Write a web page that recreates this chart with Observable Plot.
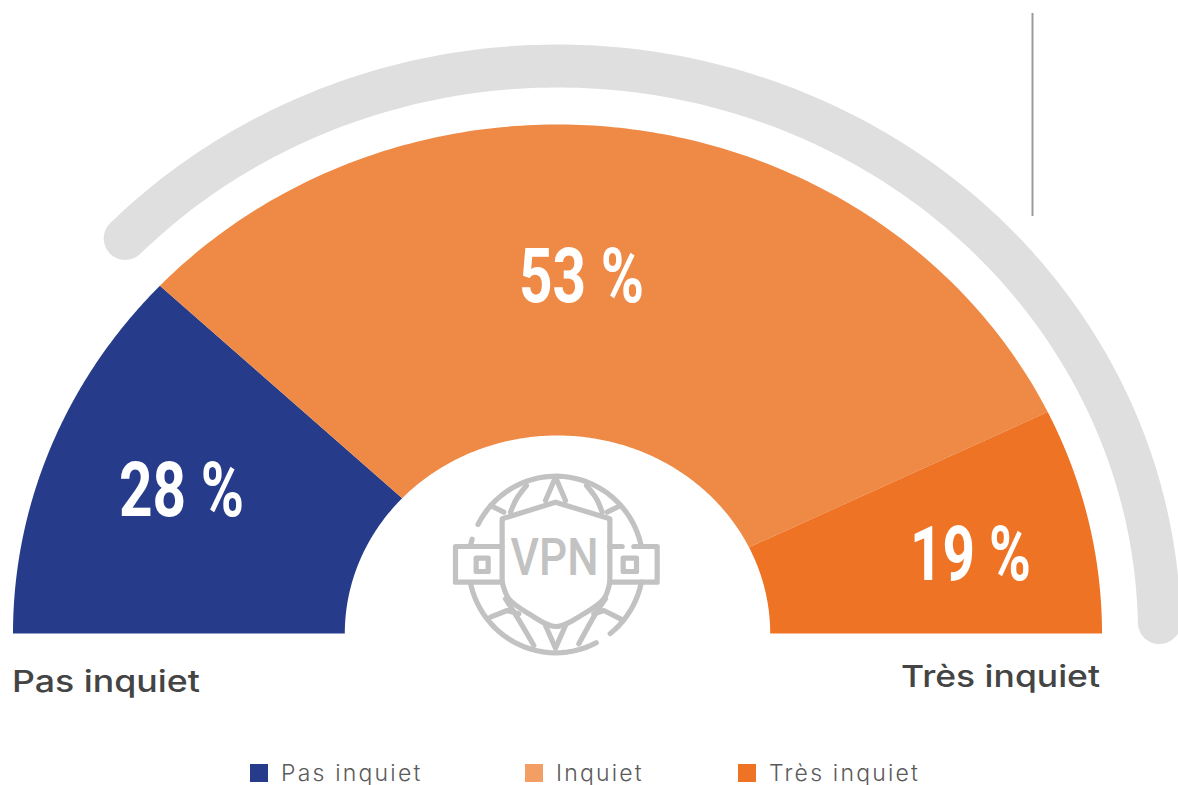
<!DOCTYPE html>
<html lang="fr">
<head>
<meta charset="utf-8">
<script src="https://cdn.jsdelivr.net/npm/d3@7"></script>
<script src="https://cdn.jsdelivr.net/npm/@observablehq/plot@0.6"></script>
<style>
html,body{margin:0;padding:0;background:#fff;overflow:hidden;width:1178px;height:785px}
#chart svg{display:block}
#legend{position:relative;height:30px;width:1178px;font-family:Inter,sans-serif;font-weight:300;font-size:23px;color:#5a5a5a}
#legend .s{position:absolute;top:9px;width:18px;height:18px}
#legend .t{position:absolute;top:6px;line-height:24px;white-space:nowrap;letter-spacing:2.2px}
</style>
</head>
<body>
<div id="chart"></div>
<div id="legend"></div>
<script>
const categories = ["Pas inquiet", "Inquiet", "Très inquiet"];
const values = [28, 53, 19];
const valueLabels = ["28 %", "53 %", "19 %"];
const sectorColors = ["#263C8A", "#EE8A45", "#EE7324"];
const legendColors = ["#263C8A", "#F29E64", "#EE7324"];
// Sector edges as drawn in the picture (degrees, counter-clockwise from the right)
const sectorEdges = [180, 136.9, 25.8, 0];

const W = 1178, H = 755, cx = 557, cy = 633;
const rOuter = [544.5, 509], rInner = [212.7, 198], rTrack = [602, 567.5];
const arcPts = (r, a0, a1) => d3.range(0, 1.0001, 1 / 160).map(t => {
  const a = (a0 + (a1 - a0) * t) * Math.PI / 180;
  return [r[0] * Math.cos(a), r[1] * Math.sin(a)];
});

const sectors = categories.flatMap((c, i) =>
  [...arcPts(rOuter, sectorEdges[i], sectorEdges[i + 1]), ...arcPts(rInner, sectorEdges[i + 1], sectorEdges[i])]
    .map(([x, y]) => ({x, y, c})));
const track = arcPts(rTrack, 1.1, 135.9).map(([x, y]) => ({x, y}));

// Icon, in its own 3x drawing units
const ix = x => 440 + x / 3 - cx;
const iy = y => cy - (465 + y / 3);
const circle = (a0, a1) => d3.range(a0, a1 + 0.01, 4).map(a => [346 + 262 * Math.cos(a * Math.PI / 180), 297 + 265 * Math.sin(a * Math.PI / 180)]);
const iconStraight = [
  circle(207, 347), circle(11.5, 53.5), circle(62.4, 168.5), circle(192.6, 198.4),
  [[185, 243], [45, 243], [45, 350], [185, 350]],
  [[508, 350], [650, 350], [650, 243], [580, 243]],
  [[508, 243], [545, 243]],
  [[107, 278], [143, 278], [143, 318], [107, 318], [107, 278]],
  [[548, 278], [588, 278], [588, 318], [548, 318], [548, 278]],
  [[185, 350], [185, 160], [345, 110], [508, 160], [508, 350]],
  [[150, 120], [190, 140]], [[540, 120], [500, 140]],
  [[150, 455], [200, 435], [235, 445]], [[540, 460], [490, 435], [460, 445]],
  [[345, 35], [315, 105]], [[345, 35], [375, 105]],
  [[315, 480], [345, 548], [375, 480]]
];
const iconCurved = [
  [[185, 350], [205, 400], [265, 445], [345, 483], [430, 445], [490, 400], [508, 350]],
  [[258, 60], [228, 100], [210, 140]], [[438, 60], [468, 100], [485, 140]],
  [[195, 400], [230, 455], [280, 540]], [[495, 400], [465, 445], [415, 535]]
];
const toRows = lines => lines.flatMap((l, k) => l.map(([x, y]) => ({x: ix(x), y: iy(y), k})));

const texts = [
  {x: 181 - cx, y: cy - 491.5, t: valueLabels[0], w: 125},
  {x: 581 - cx, y: cy - 277.5, t: valueLabels[1], w: 125},
  {x: 970 - cx, y: cy - 555.5, t: valueLabels[2], w: 121}
];
const fit = (getW, adjust) => (index, scales, values, dims, ctx, next) => {
  const g = next(index, scales, values, dims, ctx);
  d3.select(g).selectAll("text").each(function (_, j) {
    this.setAttribute("textLength", getW(index[j]));
    this.setAttribute("lengthAdjust", adjust);
  });
  return g;
};
const sideLabels = [
  {x: 11.5 - cx, y: cy - 691.5, t: categories[0], w: 188},
  {x: 900.5 - cx, y: cy - 686.5, t: categories[2], w: 199}
];

const plot = Plot.plot({
  width: W, height: H, margin: 0,
  x: {domain: [-cx, W - cx], axis: null},
  y: {domain: [cy - H, cy], axis: null},
  color: {domain: categories, range: sectorColors},
  style: {background: "#fff"},
  marks: [
    Plot.line(track, {x: "x", y: "y", stroke: "#DFDFDF", strokeWidth: 43, strokeLinecap: "round"}),
    Plot.ruleX([1032 - cx], {y1: cy - 216, y2: cy - 13, stroke: "#9B9B9B", strokeWidth: 2}),
    Plot.line(sectors, {x: "x", y: "y", z: "c", fill: "c", stroke: null}),
    Plot.line(toRows(iconStraight), {x: "x", y: "y", z: "k", stroke: "#C2C2C2", strokeWidth: 5.2, strokeLinecap: "round", strokeLinejoin: "round"}),
    Plot.line(toRows(iconCurved), {x: "x", y: "y", z: "k", curve: "catmull-rom", stroke: "#C2C2C2", strokeWidth: 5.2, strokeLinecap: "round", strokeLinejoin: "round"}),
    Plot.text(["VPN"], {x: 554 - cx, y: cy - 558, text: d => d, fill: "#C2C2C2", fontFamily: "Roboto", fontWeight: 500, fontSize: 52,
      render: fit(() => 88, "spacingAndGlyphs")}),
    Plot.text(texts, {x: "x", y: "y", text: "t", fill: "#fff", fontFamily: "'Liberation Sans Narrow', Roboto, sans-serif", fontWeight: 700, fontSize: 76,
      render: fit(i => texts[i].w, "spacingAndGlyphs")}),
    Plot.text(sideLabels, {x: "x", y: "y", text: "t", textAnchor: "start", lineAnchor: "bottom", fill: "#444444", fontFamily: "Inter", fontWeight: 500, fontSize: 30,
      render: fit(i => sideLabels[i].w, "spacingAndGlyphs")})
  ]
});
document.getElementById("chart").append(plot);

const legendX = [250, 525, 738];
const legend = d3.select("#legend");
categories.forEach((c, i) => {
  legend.append("div").attr("class", "s").style("left", legendX[i] + "px").style("background", legendColors[i]);
  legend.append("div").attr("class", "t").style("left", (legendX[i] + 31) + "px").text(c);
});
</script>
</body>
</html>
